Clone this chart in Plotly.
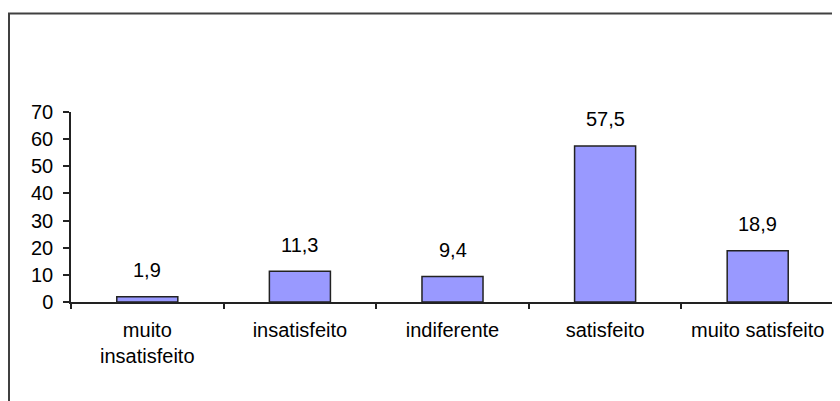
import plotly.graph_objects as go

categories = ["muito<br>insatisfeito", "insatisfeito", "indiferente", "satisfeito", "muito satisfeito"]
values = [1.9, 11.3, 9.4, 57.5, 18.9]
value_labels = ["1,9", "11,3", "9,4", "57,5", "18,9"]
y_ticks = [0, 10, 20, 30, 40, 50, 60, 70]

FONT = "Liberation Sans, Arial, sans-serif"
# the page body adds an 8px offset, so the figure is 8px smaller and shifted
W, H = 832, 393
ML, MR, MT, MB = 63, 6, 104, 99
PW = W - ML - MR
PH = H - MT - MB

fig = go.Figure()
fig.add_trace(go.Bar(
    x=categories, y=values,
    marker=dict(color="#9999FF", line=dict(color="#222222", width=1.5)),
    hoverinfo="skip",
))

for c, v, t in zip(categories, values, value_labels):
    fig.add_annotation(x=c, y=v, text=t, showarrow=False, yanchor="middle",
                       yshift=26.5, font=dict(family=FONT, size=20, color="#000000"))

# outer chart frame (extends past the right and bottom edges)
fig.add_shape(type="rect", xref="paper", yref="paper",
              x0=(1 - ML) / PW, x1=(W + 20 - ML) / PW,
              y0=-(H + 20 - MT - PH) / PH,
              y1=1 + (MT - 5.5) / PH,
              line=dict(color="#404040", width=2), layer="below")

fig.update_layout(
    width=W, height=H,
    margin=dict(l=ML, r=MR, t=MT, b=MB, autoexpand=False),
    paper_bgcolor="white", plot_bgcolor="white",
    bargap=0.6, showlegend=False,
    font=dict(family=FONT, size=20, color="#000000"),
    xaxis=dict(showline=True, linecolor="#222222", linewidth=1.5,
               ticks="outside", tickson="boundaries", ticklen=5, tickcolor="#222222",
               tickwidth=1.5, showgrid=False, tickfont=dict(size=20),
               ticklabelstandoff=9, fixedrange=True),
    yaxis=dict(range=[0, 70], tickvals=y_ticks, showline=True, linecolor="#222222",
               linewidth=1.5, ticks="outside", ticklen=6, tickcolor="#222222",
               tickwidth=1.5, showgrid=False, zeroline=False,
               tickfont=dict(size=20), ticklabelstandoff=6, fixedrange=True),
)

fig.write_html("out.html")
